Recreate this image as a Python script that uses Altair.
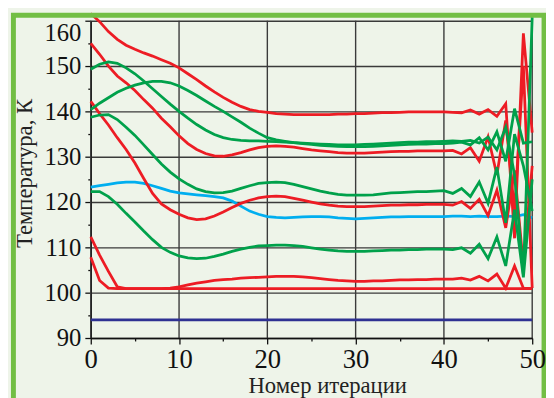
import altair as alt
import pandas as pd

ITER = list(range(51))
GRID_X = [0, 10, 20, 30, 40, 50]

R1 = [161.6, 159.8, 157.6, 155.9, 154.6, 153.7, 152.9, 152.2, 151.4, 150.6,
      149.6, 148.3, 147.0, 145.6, 144.3, 143.1, 142.0, 141.1, 140.4, 140.0,
      139.8, 139.5, 139.4, 139.3, 139.3, 139.3, 139.3, 139.3, 139.4, 139.4,
      139.5, 139.5, 139.6, 139.7, 139.7, 139.8, 139.9, 139.9, 139.9, 139.9,
      139.9, 139.8, 139.7, 140.3, 139.4, 140.4, 138.9, 141.7, 112.0, 157.2, 135.3]
R2 = [155.0, 152.6, 150.0, 147.8, 146.3, 144.6, 142.6, 140.7, 138.5, 136.6,
      134.6, 132.9, 131.6, 130.7, 130.2, 130.1, 130.4, 130.9, 131.5, 132.0,
      132.3, 132.4, 132.3, 132.1, 131.8, 131.5, 131.3, 131.1, 130.9, 130.8,
      130.8, 130.8, 130.9, 131.0, 131.1, 131.2, 131.2, 131.3, 131.3, 131.3,
      131.3, 131.4, 130.6, 132.0, 129.0, 134.4, 126.0, 138.0, 118.0, 150.0, 101.0]
R3 = [142.2, 139.5, 137.0, 134.2, 131.6, 128.6, 125.2, 121.9, 119.6, 118.3,
      117.3, 116.5, 116.1, 116.3, 116.9, 117.8, 118.8, 119.7, 120.4, 120.9,
      121.2, 121.3, 121.2, 120.8, 120.4, 120.0, 119.6, 119.3, 119.1, 119.0,
      119.0, 119.0, 119.1, 119.2, 119.3, 119.3, 119.4, 119.4, 119.5, 119.5,
      119.5, 119.3, 120.1, 118.6, 120.6, 117.0, 122.6, 114.3, 127.0, 106.0, 128.0]
R4 = [112.3, 108.3, 104.7, 101.3, 100.9, 100.9, 100.9, 100.9, 100.9, 100.9,
      100.9, 100.9, 100.9, 100.9, 100.9, 100.9, 100.9, 100.9, 100.9, 100.9,
      100.9, 100.9, 100.9, 100.9, 100.9, 100.9, 100.9, 100.9, 100.9, 100.9,
      100.9, 100.9, 100.9, 100.9, 100.9, 100.9, 100.9, 100.9, 100.9, 100.9,
      100.9, 100.9, 100.9, 100.9, 100.9, 100.9, 100.9, 100.9, 100.9, 100.9, 100.9]
R5 = [107.8, 102.7, 101.0, 100.9, 100.9, 100.9, 100.9, 100.9, 100.9, 101.0,
      101.3, 101.7, 102.1, 102.4, 102.7, 102.9, 103.0, 103.2, 103.3, 103.4,
      103.5, 103.6, 103.6, 103.6, 103.5, 103.3, 103.1, 102.9, 102.7, 102.6,
      102.5, 102.5, 102.6, 102.6, 102.7, 102.8, 102.8, 102.9, 102.9, 103.0,
      103.0, 103.0, 103.2, 102.8, 103.6, 102.6, 104.1, 101.0, 105.9, 101.0, 100.9]
G1 = [149.3, 150.4, 150.9, 150.6, 149.6, 148.3, 146.7, 145.0, 143.3, 141.6,
      140.0, 138.5, 137.1, 135.9, 134.9, 134.2, 133.8, 133.6, 133.5, 133.5,
      133.4, 133.3, 133.2, 133.1, 133.0, 132.9, 132.8, 132.7, 132.6, 132.6,
      132.6, 132.7, 132.8, 132.9, 133.0, 133.1, 133.2, 133.2, 133.3, 133.3,
      133.4, 133.5, 133.4, 133.6, 133.0, 134.3, 131.5, 136.5, 126.0, 104.0, 160.8]
G2 = [140.4, 141.8, 143.0, 144.2, 145.1, 145.8, 146.3, 146.6, 146.6, 146.3,
      145.6, 144.6, 143.5, 142.3, 141.1, 140.0, 138.8, 137.6, 136.3, 135.2,
      134.2, 133.7, 133.4, 133.1, 132.9, 132.7, 132.5, 132.4, 132.3, 132.2,
      132.2, 132.2, 132.3, 132.4, 132.5, 132.6, 132.7, 132.8, 132.8, 132.9,
      132.9, 133.0, 133.2, 132.6, 134.2, 131.5, 135.5, 129.0, 140.6, 133.0, 133.3]
G3 = [138.7, 139.2, 139.3, 138.2, 136.5, 134.7, 132.6, 130.5, 128.4, 126.6,
      125.1, 123.9, 122.9, 122.3, 122.0, 122.1, 122.4, 123.0, 123.6, 124.1,
      124.3, 124.4, 124.3, 123.9, 123.4, 122.9, 122.4, 122.0, 121.7, 121.5,
      121.5, 121.5, 121.6, 121.8, 122.0, 122.1, 122.2, 122.3, 122.3, 122.4,
      122.5, 121.9, 123.0, 121.2, 124.4, 119.7, 127.7, 115.4, 135.0, 128.0, 118.0]
G4 = [122.3, 122.3, 121.2, 119.5, 117.5, 115.6, 113.6, 111.7, 110.0, 108.9,
      108.1, 107.7, 107.5, 107.6, 108.0, 108.5, 109.1, 109.6, 110.0, 110.3,
      110.4, 110.5, 110.5, 110.4, 110.2, 109.9, 109.6, 109.4, 109.2, 109.1,
      109.1, 109.1, 109.2, 109.3, 109.4, 109.4, 109.5, 109.5, 109.6, 109.6,
      109.6, 109.5, 109.9, 108.7, 110.7, 107.5, 112.3, 105.9, 118.3, 103.4, 125.0]
BLUE = [123.3, 123.6, 123.9, 124.2, 124.4, 124.4, 124.1, 123.6, 123.0, 122.4,
        122.0, 121.8, 121.6, 121.4, 121.2, 120.9, 120.2, 119.1, 118.0, 117.3,
        116.8, 116.6, 116.5, 116.6, 116.7, 116.8, 116.8, 116.7, 116.5, 116.4,
        116.3, 116.4, 116.5, 116.6, 116.7, 116.7, 116.8, 116.8, 116.8, 116.8,
        116.8, 116.9, 116.9, 116.8, 116.9, 116.8, 116.8, 116.9, 116.8, 117.2, 116.5]
NAVY_X = [0, 50]
NAVY = [94.0, 94.0]

SERIES = [("n", NAVY_X, NAVY), ("b", ITER, BLUE),
          ("r1", ITER, R1), ("r2", ITER, R2), ("r3", ITER, R3), ("r4", ITER, R4), ("r5", ITER, R5),
          ("g1", ITER, G1), ("g2", ITER, G2), ("g3", ITER, G3), ("g4", ITER, G4)]
COLORS = {"n": "#2E3192", "b": "#00AEEF",
          "r1": "#ED1C24", "r2": "#ED1C24", "r3": "#ED1C24", "r4": "#ED1C24", "r5": "#ED1C24",
          "g1": "#00A14B", "g2": "#00A14B", "g3": "#00A14B", "g4": "#00A14B"}

rows = []
for order, (name, xs, ys) in enumerate(SERIES):
    for x, y in zip(xs, ys):
        rows.append({"s": name, "x": x, "y": y, "o": order})
df = pd.DataFrame(rows)

FONT = "Liberation Serif"
minor = "datum.value % 10 != 0"
xscale = alt.Scale(domain=[0, 50], nice=False, zero=False)

x_axis = alt.Axis(
    values=list(range(0, 51, 5)),
    labelExpr="datum.value % 10 == 0 ? datum.label : ''",
    labelOverlap=False, labelFlush=False,
    labelFont=FONT, labelFontSize=27, labelColor="#111", labelPadding=3,
    grid=False, zindex=1,
    tickSize={"condition": {"test": minor, "value": 3}, "value": 6},
    tickColor="#111", tickWidth=1.3,
    domainColor="#111", domainWidth=1.5,
    title="Номер итерации", titleFont=FONT, titleFontSize=23, titleFontWeight="normal",
    titleColor="#222", titlePadding=2, titleX=240,
)
y_axis = alt.Axis(
    values=list(range(90, 161, 5)),
    labelExpr="datum.value % 10 == 0 ? datum.label : ''",
    labelOverlap=False, labelFlush=False,
    labelBaseline={"condition": {"test": "datum.value == 160", "value": "top"}, "value": "middle"},
    labelFont=FONT, labelFontSize=25, labelColor="#111", labelPadding=4,
    gridColor="#3a3a3a", gridWidth=1.4,
    gridOpacity={"condition": {"test": minor, "value": 0}, "value": 1},
    tickSize={"condition": {"test": minor, "value": 3}, "value": 6},
    tickColor="#111", tickWidth=1.3,
    domainColor="#111", domainWidth=1.5,
    title="Температура, К", titleFont=FONT, titleFontSize=23, titleFontWeight="normal",
    titleColor="#222", titlePadding=8, titleY=154.5,
)

vgrid = alt.Chart(pd.DataFrame({"g": GRID_X})).mark_rule(
    color="#3a3a3a", strokeWidth=1.4
).encode(x=alt.X("g:Q", scale=xscale, axis=x_axis))

lines = alt.Chart(df).mark_line(strokeWidth=2.8).encode(
    x=alt.X("x:Q", scale=xscale, axis=x_axis),
    y=alt.Y("y:Q", scale=alt.Scale(domain=[90, 160], nice=False, zero=False), axis=y_axis),
    color=alt.Color("s:N", scale=alt.Scale(domain=list(COLORS.keys()), range=list(COLORS.values())), legend=None),
    detail="s:N",
    order="o:Q",
)

frame = alt.Chart(alt.Data(values=[{"k": 1}])).mark_rect(
    fill="transparent", stroke="#72BE44", strokeWidth=5
).encode(
    x=alt.value(-78.5), x2=alt.value(460), y=alt.value(-5.5), y2=alt.value(400)
)

chart = alt.layer(vgrid, lines, frame).properties(
    width=448, height=322,
    autosize=alt.AutoSizeParams(type="none"),
    padding={"left": 84, "top": 10, "right": 14, "bottom": 60},
    background="#EEF4E9",
).configure(font=FONT).configure_axis(
    labelFont=FONT, titleFont=FONT
).configure_view(stroke=None)

chart.save("out.html", embed_options={"renderer": "svg", "actions": False})
